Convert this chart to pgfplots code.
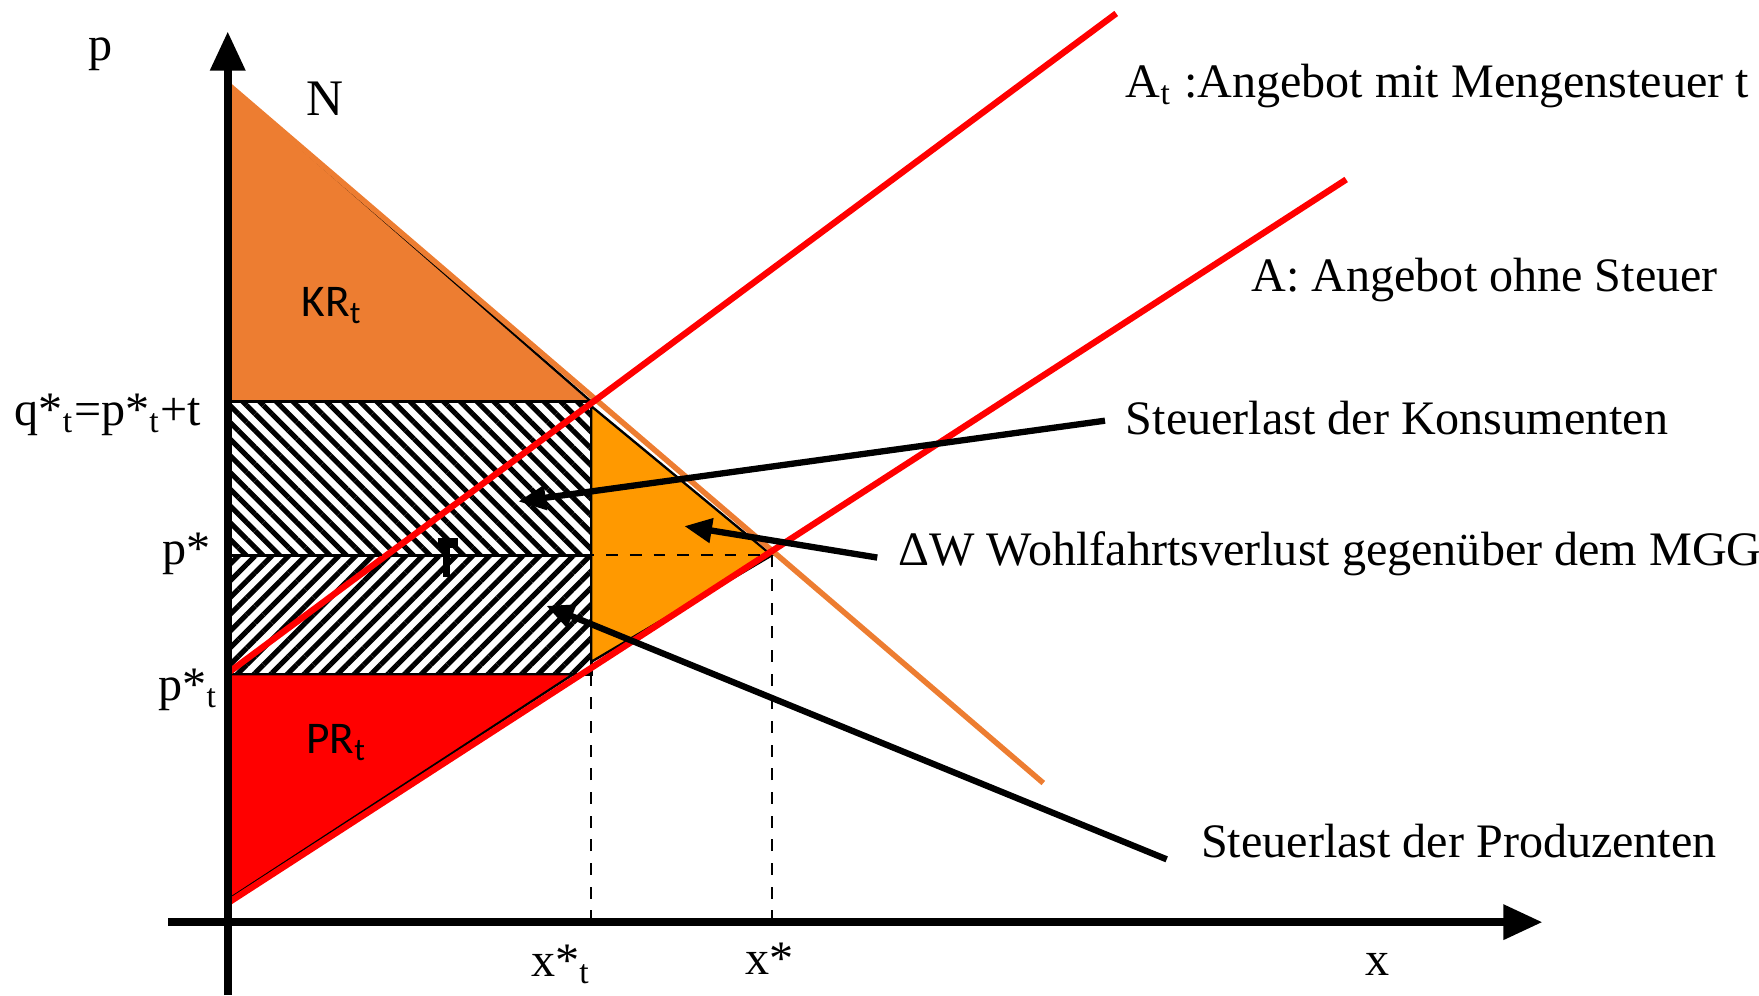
\documentclass[border=0pt]{standalone}
\usepackage{fontspec}
\setmainfont{Liberation Serif}
\newfontfamily\calibri{Carlito}
\usepackage{pgfplots}
\pgfplotsset{compat=1.18}
\usetikzlibrary{arrows.meta,patterns.meta}

\definecolor{krorange}{RGB}{237,125,49}
\definecolor{dwlorange}{RGB}{255,153,0}
\definecolor{prred}{RGB}{255,0,0}

\begin{document}
\begin{tikzpicture}[
  lbl/.style={inner sep=0pt, font=\fontsize{12.2}{14}\selectfont},
  sans/.style={inner sep=0pt, font=\calibri\fontsize{11.5}{13}\selectfont},
  hint/.style={line width=1.6pt, -{Triangle[length=7pt,width=6pt]}}]
\begin{axis}[name=ax, scale only axis, width=15.68cm, height=8.87cm,
  xmin=-2.03, xmax=13.65, ymin=-0.65, ymax=8.22,
  hide axis, clip=false]

% Flaechen
\addplot[fill=krorange, draw=black, line width=0.6pt] coordinates {(0,7.47) (0,4.64) (3.24,4.64)} -- cycle;
\addplot[pattern={Lines[angle=-45,distance=3pt,line width=1.3pt]}, draw=black, line width=0.8pt]
  coordinates {(0,3.27) (3.24,3.27) (3.24,4.64) (0,4.64)} -- cycle;
\addplot[pattern={Lines[angle=45,distance=3pt,line width=1.3pt]}, draw=black, line width=0.8pt]
  coordinates {(0,2.21) (3.24,2.21) (3.24,3.27) (0,3.27)} -- cycle;
\addplot[fill=dwlorange, draw=black, line width=0.6pt] coordinates {(3.24,4.60) (4.85,3.27) (3.24,2.32)} -- cycle;
\addplot[fill=prred, draw=black, line width=0.6pt] coordinates {(0,2.21) (3.08,2.21) (0,0.20)} -- cycle;

% Kurven
\addplot[krorange, line width=1.4pt] coordinates {(0,7.47) (7.27,1.24)};
\addplot[prred, line width=1.6pt] coordinates {(0,0.17) (9.97,6.62)};
\addplot[prred, line width=1.6pt] coordinates {(0,2.22) (7.92,8.10)};

% Hilfslinien
\addplot[black, dashed, line width=0.6pt] coordinates {(0,3.27) (4.85,3.27)};
\addplot[black, dashed, line width=0.6pt] coordinates {(3.24,0) (3.24,2.21)};
\addplot[black, dashed, line width=0.6pt] coordinates {(4.85,0) (4.85,3.27)};

% Achsen
\draw[line width=2pt, -{Triangle[length=0.35cm,width=0.3cm]}] (axis cs:0,-0.65) -- (axis cs:0,7.94);
\draw[line width=2pt, -{Triangle[length=0.35cm,width=0.3cm]}] (axis cs:-0.53,0) -- (axis cs:11.72,0);

% Markierung t
\draw[line width=1.6pt] (axis cs:1.95,3.08) -- (axis cs:1.95,3.37);
\draw[line width=2.4pt] (axis cs:1.87,3.38) -- (axis cs:2.05,3.38);

% Hinweispfeile
\draw[hint] (axis cs:7.82,4.47) -- (axis cs:2.59,3.75);
\draw[hint] (axis cs:5.79,3.25) -- (axis cs:4.07,3.53);
\draw[hint] (axis cs:8.37,0.56) -- (axis cs:2.84,2.82);

% Beschriftungen
\node[lbl] at (axis cs:-1.13,7.74) {p};
\node[lbl, font=\fontsize{13}{15}\selectfont] at (axis cs:0.87,7.34) {N};
\node[sans] at (axis cs:0.93,5.50) {KR\textsubscript{t}};
\node[sans] at (axis cs:0.97,1.60) {PR\textsubscript{t}};
\node[lbl, anchor=east] at (axis cs:-0.23,4.52) {q*\textsubscript{t}=p*\textsubscript{t}+t};
\node[lbl, anchor=east] at (axis cs:-0.15,3.28) {p*};
\node[lbl, anchor=east] at (axis cs:-0.08,2.07) {p*\textsubscript{t}};
\node[lbl] at (axis cs:2.97,-0.38) {x*\textsubscript{t}};
\node[lbl] at (axis cs:4.83,-0.33) {x*};
\node[lbl] at (axis cs:10.25,-0.38) {x};

\node[lbl, anchor=west] at (axis cs:8.00,7.45) {A\textsubscript{t} :Angebot mit Mengensteuer t};
\node[lbl, anchor=west] at (axis cs:9.12,5.72) {A: Angebot ohne Steuer};
\node[lbl, anchor=west] at (axis cs:8.00,4.49) {Steuerlast der Konsumenten};
\node[lbl, anchor=west] at (axis cs:5.97,3.28) {ΔW Wohlfahrtsverlust gegenüber dem MGG};
\node[lbl, anchor=west] at (axis cs:8.67,0.72) {Steuerlast der Produzenten};
\end{axis}
\pgfresetboundingbox
\path (ax.south west) rectangle (ax.north east);
\end{tikzpicture}
\end{document}
